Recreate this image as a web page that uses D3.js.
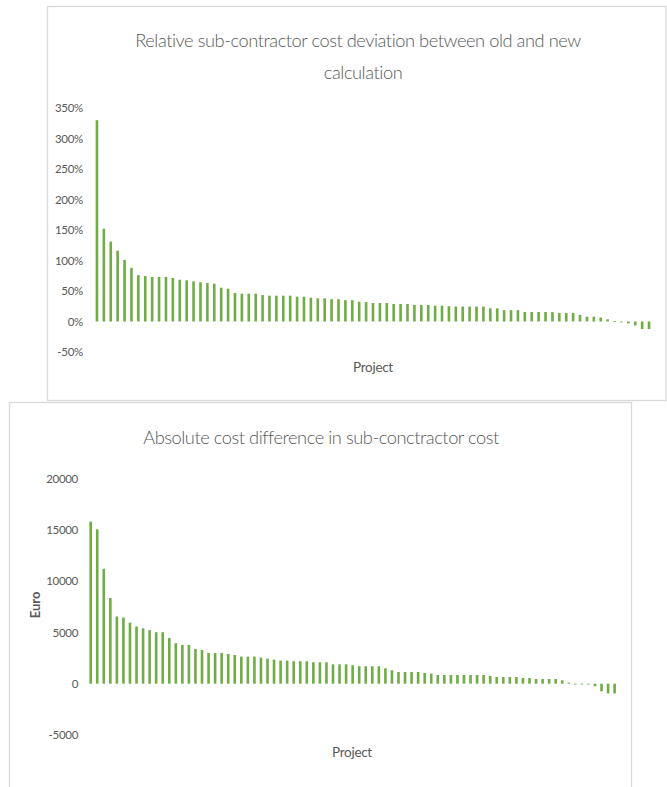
<!DOCTYPE html>
<html>
<head>
<meta charset="utf-8">
<script src="https://cdn.jsdelivr.net/npm/d3@7"></script>
<style>
  html, body { margin: 0; padding: 0; background: #fff; }
  svg { display: block; }
  text { font-family: Lato, "Open Sans", "Liberation Sans", sans-serif; fill: #595959; }
</style>
</head>
<body>
<svg id="chart" width="667" height="787"></svg>
<script>
// ---------- DATA ----------
const projects = d3.range(1, 82).map(i => "P" + i);

const relativeDeviation = [
  330, 152, 131, 116, 101, 88, 76, 74.6, 73, 73,
  73, 71.3, 68.5, 67.5, 65.9, 64.2, 63, 62, 55.4, 53.8,
  46.7, 45.6, 45.6, 45.6, 43.4, 42.3, 42.3, 42.3, 42.3, 40.7,
  40.7, 39, 38, 38, 36.6, 36.6, 35, 35, 32.4, 32,
  30.3, 30.3, 30.3, 28.7, 28.7, 28.7, 27.3, 27, 27, 25.9,
  25.9, 25, 24.5, 24.5, 24.5, 24.5, 24.5, 21.6, 21.6, 18.6,
  18.6, 18.6, 15.6, 15.6, 15.6, 15.6, 15.4, 13.9, 13.9, 13.9,
  10.8, 7.9, 7.9, 6.5, 3.6, 0.8, -0.7, -3, -6.5, -12.5,
  -12.5
];

const absoluteDifference = [
  15800, 15050, 11200, 8350, 6550, 6450, 5950, 5570, 5400, 5220,
  5020, 5020, 4460, 3950, 3780, 3780, 3390, 3290, 3000, 3000,
  3000, 2900, 2800, 2640, 2640, 2640, 2540, 2440, 2340, 2250,
  2250, 2190, 2190, 2190, 2090, 2090, 2090, 1890, 1890, 1890,
  1800, 1700, 1700, 1700, 1700, 1500, 1310, 1140, 1140, 1140,
  1140, 1045, 980, 850, 850, 850, 850, 850, 850, 850,
  850, 750, 650, 650, 650, 650, 560, 560, 460, 460,
  460, 460, 330, 100, -30, -60, -60, -250, -740, -940,
  -940
];

const relTicks = [-50, 0, 50, 100, 150, 200, 250, 300, 350];
const absTicks = [-5000, 0, 5000, 10000, 15000, 20000];

const relTitle = ["Relative sub-contractor cost deviation between old and new", "calculation"];
const absTitle = "Absolute cost difference in sub-conctractor cost";
const xLabel = "Project";
const absYLabel = "Euro";

// ---------- DRAW ----------
const svg = d3.select("#chart");
const barColor = "#70ad47";
const frameColor = "#d9d9d9";

// choose a font size so that the natural width matches the target (no glyph squeezing)
function sizeToWidth(sel, baseSize, width, minSize, maxSize) {
  sel.style("font-size", baseSize + "px");
  const w = sel.node().getComputedTextLength();
  let s = baseSize * width / w;
  s = Math.max(minSize, Math.min(maxSize, s));
  sel.style("font-size", s.toFixed(2) + "px");
  return s;
}

// ===== Top chart =====
svg.append("rect")
  .attr("x", 47.5).attr("y", 6.5).attr("width", 618.5).attr("height", 394)
  .attr("fill", "#fff").attr("stroke", frameColor).attr("stroke-width", 1.3);

const title1 = svg.append("text").attr("x", 358).attr("y", 47).attr("text-anchor", "middle")
  .style("font-weight", 300).style("letter-spacing", "-0.45px").text(relTitle[0]);
const tSize = sizeToWidth(title1, 20, 448, 16, 22);
svg.append("text").attr("x", 363).attr("y", 79).attr("text-anchor", "middle")
  .style("font-weight", 300).style("letter-spacing", "-0.45px")
  .style("font-size", tSize.toFixed(2) + "px").text(relTitle[1]);

const x1 = d3.scaleBand().domain(projects).range([93.5, 652.5]).paddingInner(0.62).paddingOuter(0.31);
const y1 = d3.scaleLinear().domain([-50, 350]).range([352, 108]);

const yAxis1 = d3.axisLeft(y1).tickValues(relTicks).tickFormat(d => d + "%").tickSize(0).tickPadding(0);
const ya1 = svg.append("g").attr("transform", "translate(83,0)").call(yAxis1);
ya1.select(".domain").remove();
ya1.selectAll("text").style("font-size", "11.5px").attr("fill", "#595959")
  .style("letter-spacing", "-0.3px")
  .style("font-family", "Lato, 'Open Sans', sans-serif");

svg.append("g").selectAll("rect").data(relativeDeviation).join("rect")
  .attr("x", (d, i) => x1(projects[i]))
  .attr("width", x1.bandwidth())
  .attr("y", d => y1(Math.max(0, d)))
  .attr("height", d => Math.max(0.8, Math.abs(y1(d) - y1(0))))
  .attr("fill", barColor);

svg.append("text").attr("x", 373).attr("y", 372).attr("text-anchor", "middle")
  .style("font-size", "13.5px").style("letter-spacing", "-0.3px").text(xLabel);

// ===== Bottom chart =====
svg.append("rect")
  .attr("x", 9.5).attr("y", 402.5).attr("width", 622).attr("height", 420)
  .attr("fill", "#fff").attr("stroke", frameColor).attr("stroke-width", 1.3);

svg.append("text").attr("x", 321).attr("y", 444).attr("text-anchor", "middle")
  .style("font-weight", 300).style("letter-spacing", "-0.45px")
  .style("font-size", tSize.toFixed(2) + "px").text(absTitle);

const x2 = d3.scaleBand().domain(projects).range([87.4, 617.9]).paddingInner(0.6).paddingOuter(0.3);
const y2 = d3.scaleLinear().domain([-5000, 20000]).range([735, 478.5]);

const yAxis2 = d3.axisLeft(y2).tickValues(absTicks).tickFormat(d => String(d)).tickSize(0).tickPadding(0);
const ya2 = svg.append("g").attr("transform", "translate(78,0)").call(yAxis2);
ya2.select(".domain").remove();
ya2.selectAll("text").style("font-size", "11.5px").attr("fill", "#595959")
  .style("letter-spacing", "-0.3px")
  .style("font-family", "Lato, 'Open Sans', sans-serif");

svg.append("g").selectAll("rect").data(absoluteDifference).join("rect")
  .attr("x", (d, i) => x2(projects[i]))
  .attr("width", x2.bandwidth())
  .attr("y", d => y2(Math.max(0, d)))
  .attr("height", d => Math.max(0.8, Math.abs(y2(d) - y2(0))))
  .attr("fill", barColor);

svg.append("text").attr("transform", "translate(40,605) rotate(-90)")
  .attr("text-anchor", "middle").style("font-size", "13px").style("font-weight", 700)
  .text(absYLabel);

svg.append("text").attr("x", 352).attr("y", 757).attr("text-anchor", "middle")
  .style("font-size", "13.5px").style("letter-spacing", "-0.3px").text(xLabel);
</script>
</body>
</html>
